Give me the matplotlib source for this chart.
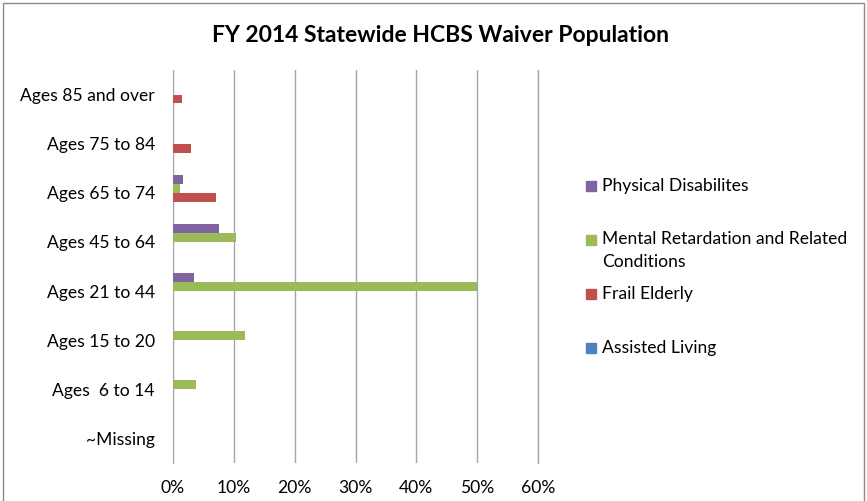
import matplotlib.pyplot as plt
from matplotlib.patches import Rectangle
from matplotlib.ticker import PercentFormatter

plt.rcParams["font.family"] = ["Lato", "DejaVu Sans"]

categories = ["Ages 85 and over", "Ages 75 to 84", "Ages 65 to 74", "Ages 45 to 64",
              "Ages 21 to 44", "Ages 15 to 20", "Ages  6 to 14", "~Missing"]
series_names = ["Physical Disabilites", "Mental Retardation and Related\nConditions",
                "Frail Elderly", "Assisted Living"]
physical = [0, 0, 1.6, 7.6, 3.4, 0, 0, 0]
mental = [0, 0, 1.2, 10.3, 50.0, 11.8, 3.7, 0]
frail = [1.4, 2.9, 7.1, 0, 0, 0, 0, 0]
assisted = [0, 0, 0, 0, 0, 0, 0, 0]
x_ticks = [0, 10, 20, 30, 40, 50, 60]

colors = ["#8064A2", "#9BBB59", "#C0504D", "#4F81BD"]
values = [physical, mental, frail, assisted]

fig = plt.figure(figsize=(8.67, 5.01), dpi=100)
ax = fig.add_axes([173 / 867, 1 - 463 / 501, (538 - 173) / 867, (463 - 70) / 501])

w = 1 / 5.5
pos = list(range(len(categories)))
for j, (vals, col, name) in enumerate(zip(values, colors, series_names)):
    ax.barh([p + (j - 1.5) * w for p in pos], vals, height=w, color=col,
            label=name, zorder=3)

ax.set_ylim(len(categories) - 0.5, -0.5)
ax.set_xlim(0, 60)
ax.set_xticks(x_ticks)
ax.xaxis.set_major_formatter(PercentFormatter(decimals=0))
ax.set_yticks(pos)
ax.set_yticklabels(categories)
ax.grid(axis="x", color="#A6A6A6", linewidth=1, zorder=0)
ax.axvline(60, color="#A6A6A6", linewidth=1, zorder=0, clip_on=False)
for s in ["top", "right", "bottom"]:
    ax.spines[s].set_visible(False)
ax.spines["left"].set_color("#A6A6A6")
ax.tick_params(axis="y", length=0, pad=13, labelsize=12.6)
ax.tick_params(axis="x", length=0, pad=12, labelsize=12.6)

fig.text(441 / 867, 1 - 36 / 501, "FY 2014 Statewide HCBS Waiver Population",
         ha="center", va="center", fontsize=16.5, fontweight="bold")

# legend drawn by hand to follow the original spacing
legend_y = [186, 240, 294, 348]
for name, col, y in zip(series_names, colors, legend_y):
    fig.patches.append(Rectangle((586 / 867, 1 - (y + 5) / 501), 10 / 867, 10 / 501,
                                 transform=fig.transFigure, color=col))
    fig.text(602 / 867, 1 - (y - 9) / 501 if "\n" in name else 1 - y / 501, name,
             ha="left", va="top" if "\n" in name else "center",
             fontsize=12.6, linespacing=1.55)

fig.patches.append(Rectangle((3 / 867, -0.02), 861 / 867, 1 - 3 / 501 + 0.02,
                             transform=fig.transFigure, fill=False,
                             edgecolor="#8C8C8C", linewidth=1))

fig.savefig("out.png", dpi=100)
